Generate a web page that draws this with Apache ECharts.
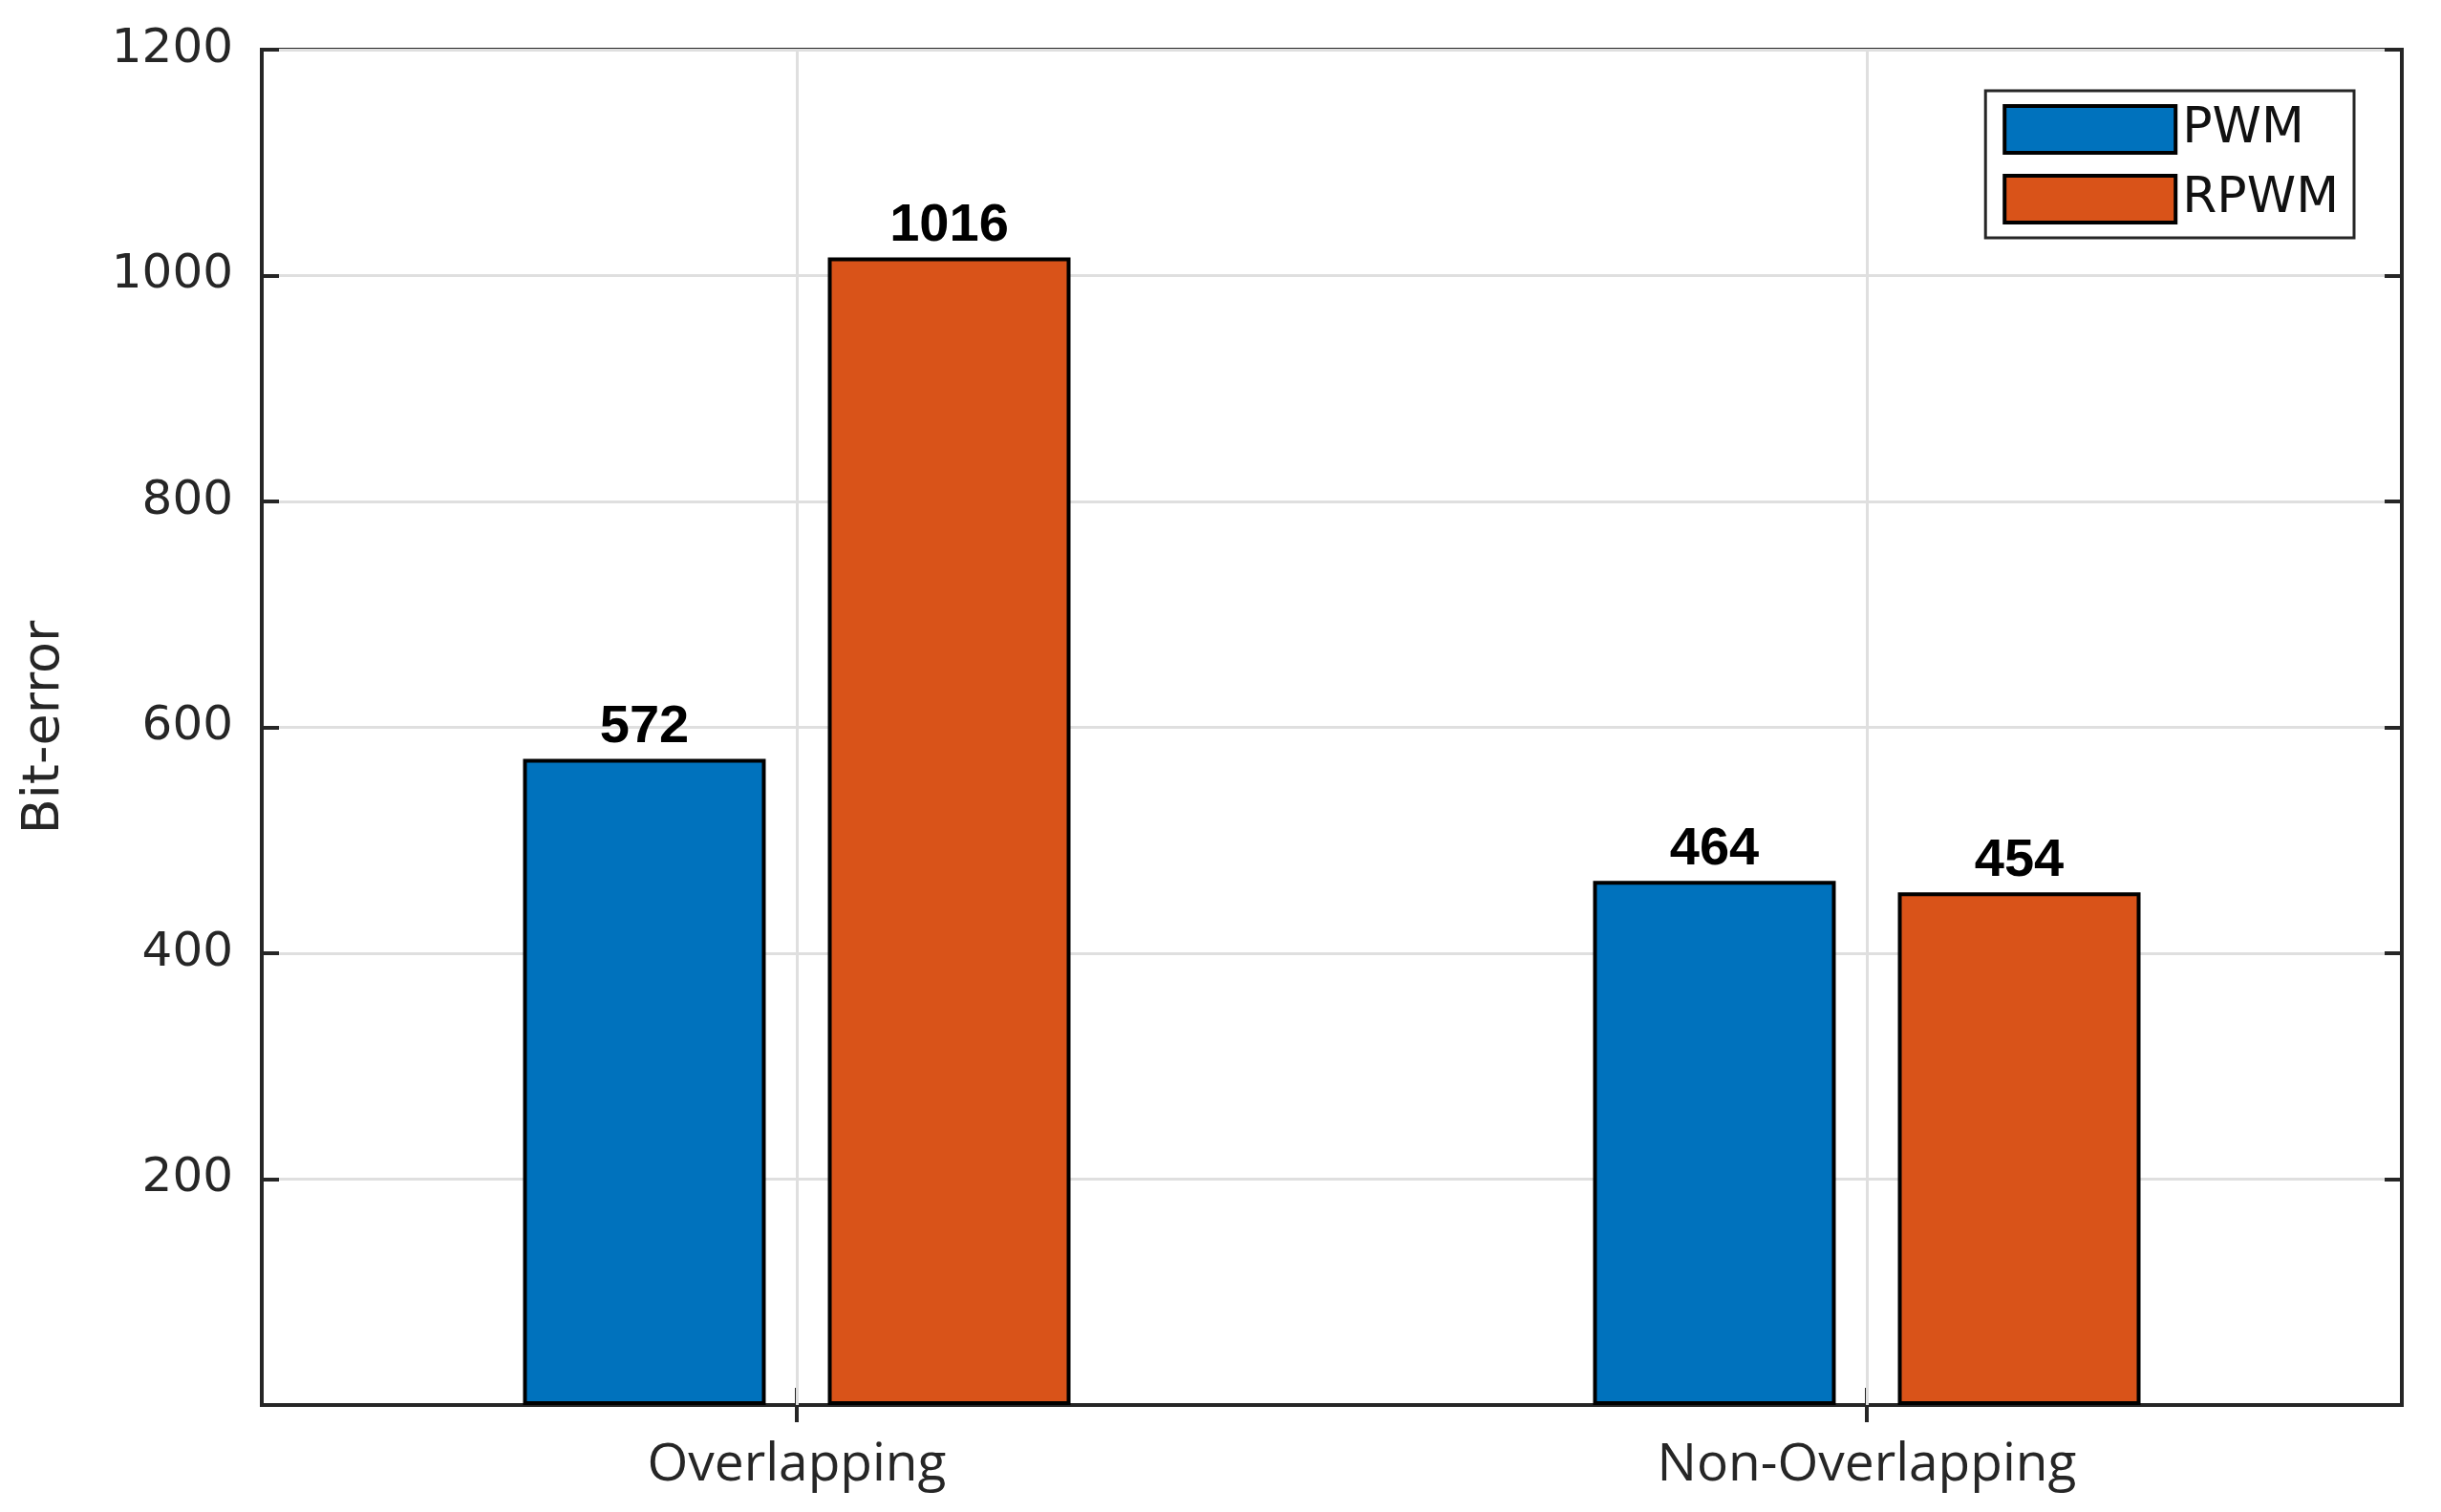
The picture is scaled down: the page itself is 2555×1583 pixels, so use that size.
<!DOCTYPE html>
<html>
<head>
<meta charset="utf-8">
<script src="https://cdn.jsdelivr.net/npm/echarts@6/dist/echarts.min.js"></script>
<style>
html,body{margin:0;padding:0;background:#fff;}
#chart{width:2555px;height:1583px;}
</style>
</head>
<body>
<div id="chart"></div>
<script>
const categories = ['Overlapping', 'Non-Overlapping'];
const seriesNames = ['PWM', 'RPWM'];
const pwmValues = [572, 464];
const rpwmValues = [1016, 454];
const yMin = 0, yMax = 1200, yStep = 200;

const axisColor = '#262626';
const gridColor = '#dfdfdf';

const chart = echarts.init(document.getElementById('chart'));
const yAxisCommon = {
  type: 'value', min: yMin, max: yMax, interval: yStep,
  axisLine: { show: true, lineStyle: { color: axisColor, width: 4 } },
  axisTick: { show: true, inside: true, length: 18, lineStyle: { color: axisColor, width: 4 } }
};
const labelStyle = { show: true, position: 'top', distance: 5, fontFamily: 'Liberation Sans', fontWeight: 'bold', fontSize: 56, color: '#000' };
chart.setOption({
  animation: false,
  backgroundColor: '#ffffff',
  grid: { left: 274, right: 41, top: 52, bottom: 112, show: true, borderColor: axisColor, borderWidth: 4 },
  legend: {
    data: seriesNames, orient: 'vertical', right: 91, top: 95,
    padding: [14, 16, 14, 18], itemWidth: 179, itemHeight: 49, itemGap: 20,
    borderColor: axisColor, borderWidth: 3, backgroundColor: '#fff',
    icon: 'rect',
    itemStyle: { borderColor: '#000', borderWidth: 4 },
    textStyle: { fontFamily: 'DejaVu Sans', fontSize: 52, color: '#111', padding: [0, 0, 0, 2] }
  },
  xAxis: [{
    type: 'category', data: categories, position: 'bottom',
    axisLine: { show: true, lineStyle: { color: axisColor, width: 4 } },
    axisTick: { show: true, inside: true, alignWithLabel: true, length: 18, lineStyle: { color: axisColor, width: 4 } },
    axisLabel: { fontFamily: 'Open Sans', fontSize: 55, color: axisColor, margin: 36 },
    splitLine: { show: false }
  }, {
    type: 'category', data: categories, position: 'top',
    axisLine: { show: true, lineStyle: { color: axisColor, width: 4 } },
    axisTick: { show: true, inside: true, alignWithLabel: true, length: 18, lineStyle: { color: axisColor, width: 4 } },
    axisLabel: { show: false }, splitLine: { show: false }
  }],
  yAxis: [Object.assign({}, yAxisCommon, {
    position: 'left',
    name: 'Bit-error', nameLocation: 'middle', nameRotate: 90, nameGap: 200,
    nameTextStyle: { fontFamily: 'DejaVu Sans', fontSize: 54, color: axisColor },
    axisLabel: { fontFamily: 'DejaVu Sans', fontSize: 50, color: axisColor, margin: 30,
      formatter: v => v === 0 ? '' : String(v) },
    splitLine: { show: true, lineStyle: { color: gridColor, width: 3 } }
  }), Object.assign({}, yAxisCommon, {
    position: 'right', axisLabel: { show: false }, splitLine: { show: false }
  })],
  series: [{
    name: 'categoryGrid', type: 'line', data: [], silent: true,
    markLine: {
      silent: true, symbol: 'none', label: { show: false },
      lineStyle: { color: gridColor, width: 3, type: 'solid' },
      data: categories.map(c => ({ xAxis: c }))
    },
    z: 1
  }, {
    name: seriesNames[0], type: 'bar', data: pwmValues, barWidth: 254, barGap: '25.6%',
    itemStyle: { color: '#0072BD', borderColor: '#000', borderWidth: 4 },
    label: labelStyle,
    z: 3
  }, {
    name: seriesNames[1], type: 'bar', data: rpwmValues, barWidth: 254,
    itemStyle: { color: '#D95319', borderColor: '#000', borderWidth: 4 },
    label: labelStyle,
    z: 3
  }]
});
</script>
</body>
</html>
